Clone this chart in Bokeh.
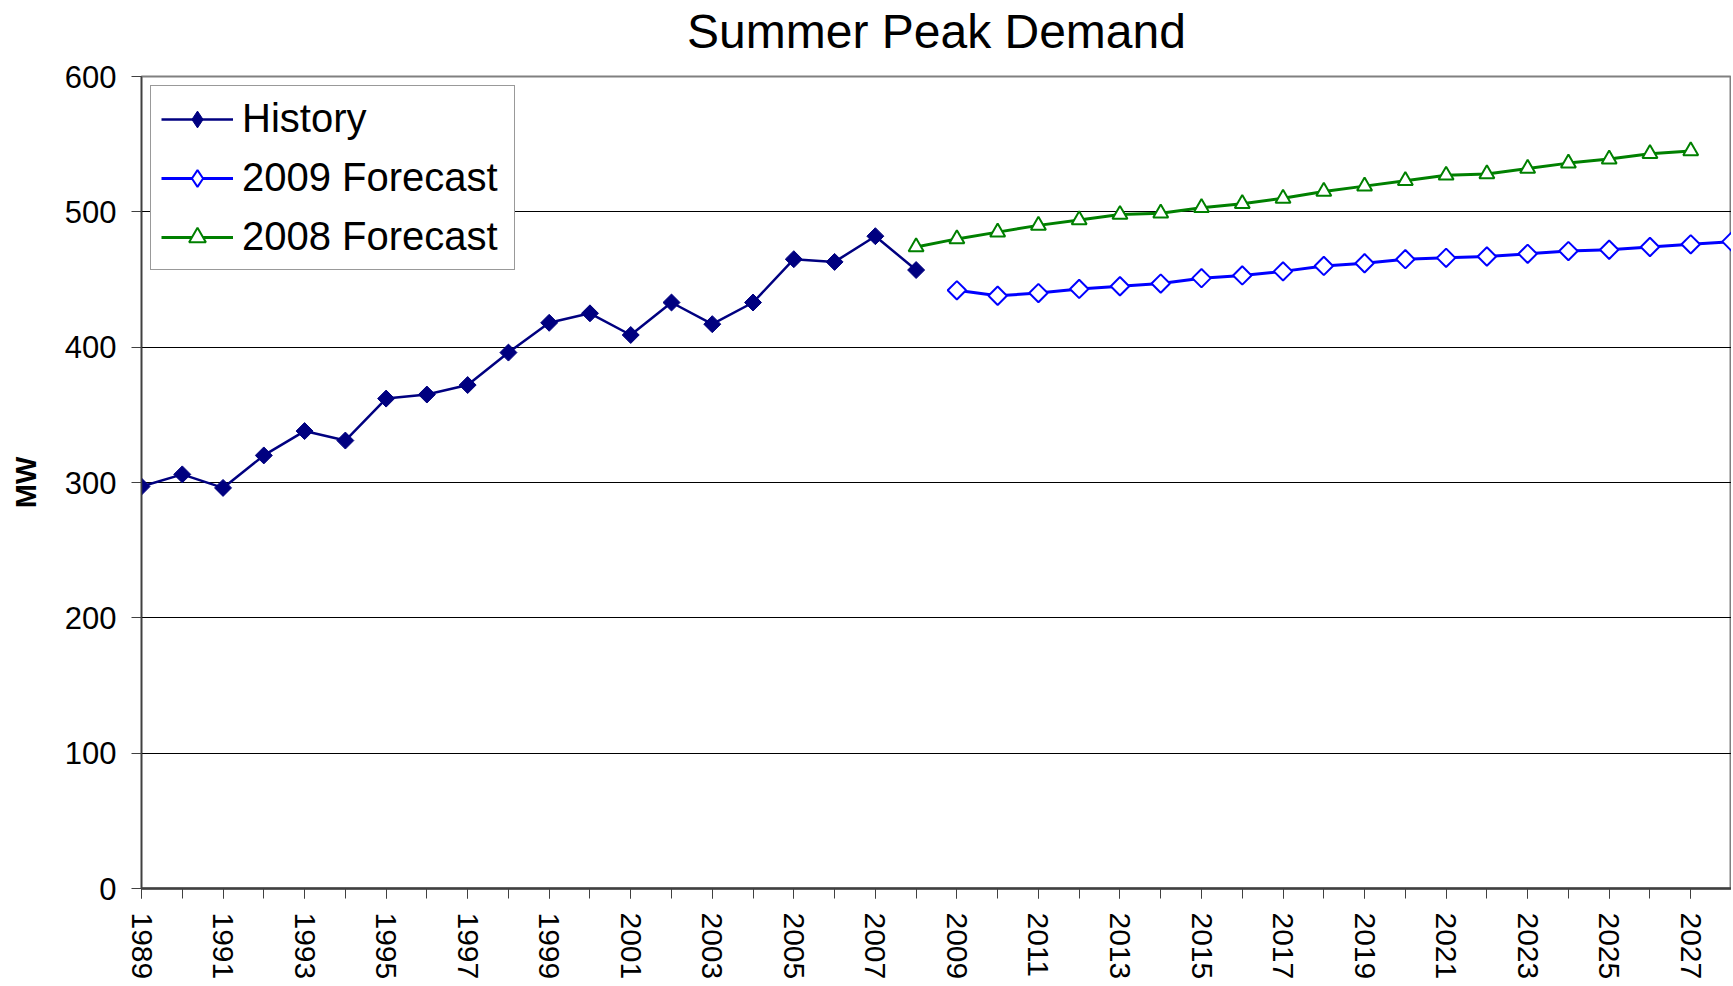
import math
from bokeh.plotting import figure
from bokeh.models import FixedTicker, Legend, LegendItem
from bokeh.embed import file_html
from bokeh.resources import INLINE

# ---- data ----
hist_years = list(range(1989, 2009))
history = [297, 306, 296, 320, 338, 331, 362, 365, 372, 396,
           418, 425, 409, 433, 417, 433, 465, 463, 482, 457]

f2009_years = list(range(2009, 2029))
forecast_2009 = [442, 438, 440, 443, 445, 447, 451, 453, 456, 460,
                 462, 465, 466, 467, 469, 471, 472, 474, 476, 478]

f2008_years = list(range(2008, 2028))
forecast_2008 = [474, 480, 485, 490, 494, 498, 499, 503, 506, 510,
                 515, 519, 523, 527, 528, 532, 536, 539, 543, 545]

x_label_years = list(range(1989, 2028, 2))
x_minor_years = list(range(1989, 2029))
y_ticks = [0, 100, 200, 300, 400, 500, 600]
grid_ticks = [100, 200, 300, 400, 500]

FONT = "Liberation Sans"

p = figure(width=1731, height=982, x_range=(1989, 2028), y_range=(0, 600),
           output_backend="svg", toolbar_location=None,
           title="Summer Peak Demand")
p.min_border_left = 141
p.min_border_right = 0
p.min_border_top = 0
p.min_border_bottom = 93

p.title.align = "center"
p.title.text_font = FONT
p.title.text_font_style = "normal"
p.title.text_font_size = "48px"
p.title.text_color = "black"
p.title.standoff = 4
p.title.padding = dict(left=0, right=0, top=0, bottom=17)

p.outline_line_color = "#808080"
p.outline_line_width = 2

# x axis
xa = p.xaxis[0]
xa.ticker = FixedTicker(ticks=x_label_years, minor_ticks=x_minor_years)
xa.major_label_overrides = {y: str(y) for y in x_label_years}
xa.major_label_orientation = "vertical"
xa.major_label_text_font = FONT
xa.major_label_text_font_size = "30px"
xa.major_label_text_color = "black"
xa.major_label_standoff = 14
xa.major_tick_in = 0
xa.major_tick_out = 10
xa.minor_tick_in = 0
xa.minor_tick_out = 10
xa.axis_line_color = "#404040"
xa.axis_line_width = 2.5
xa.major_tick_line_color = "#404040"
xa.minor_tick_line_color = "#404040"

# y axis
ya = p.yaxis[0]
ya.ticker = FixedTicker(ticks=y_ticks)
ya.minor_tick_line_color = None
ya.major_label_text_font = FONT
ya.major_label_text_font_size = "31px"
ya.major_label_text_color = "black"
ya.major_label_standoff = 15
ya.major_tick_in = 0
ya.major_tick_out = 10
ya.axis_line_color = "#404040"
ya.axis_line_width = 1.5
ya.major_tick_line_color = "#404040"
ya.axis_label = "MW"
ya.axis_label_text_font = FONT
ya.axis_label_text_font_style = "bold"
ya.axis_label_text_font_size = "29px"
ya.axis_label_text_color = "black"
ya.axis_label_standoff = 20

p.xgrid.visible = False
p.ygrid.ticker = FixedTicker(ticks=grid_ticks)
p.ygrid.grid_line_color = "black"
p.ygrid.grid_line_width = 1

# series
NAVY = "#000080"
BLUE = "#0000FF"
GREEN = "#008000"

h_line = p.line(hist_years, history, line_color=NAVY, line_width=2.5)
# legend-key renderers: tiny in the plot (hidden under the real markers),
# but the legend draws them at its own size as diamonds
h_key = p.scatter(hist_years, history, marker="diamond", size=0.1,
                  fill_color=NAVY, line_color=NAVY)
h_mark = p.scatter(hist_years, history, marker="square", angle=math.pi / 4,
                   size=12, fill_color=NAVY, line_color=NAVY)

b_line = p.line(f2009_years, forecast_2009, line_color=BLUE, line_width=3)
b_key = p.scatter(f2009_years, forecast_2009, marker="diamond", size=0.1,
                  fill_color="white", line_color=BLUE, line_width=2)
b_mark = p.scatter(f2009_years, forecast_2009, marker="square", angle=math.pi / 4,
                   size=13, fill_color="white", line_color=BLUE, line_width=2)

g_line = p.line(f2008_years, forecast_2008, line_color=GREEN, line_width=3)
g_mark = p.scatter(f2008_years, forecast_2008, marker="triangle",
                   size=15, fill_color="white", line_color=GREEN, line_width=2)

legend = Legend(items=[
    LegendItem(label="History", renderers=[h_line, h_key]),
    LegendItem(label="2009 Forecast", renderers=[b_line, b_key]),
    LegendItem(label="2008 Forecast", renderers=[g_line, g_mark]),
], location="top_left")
legend.margin = 9
legend.padding = 10
legend.spacing = 14
legend.glyph_width = 72
legend.glyph_height = 42
legend.label_height = 42
legend.label_width = 262
legend.label_standoff = 9
legend.label_text_font = FONT
legend.label_text_font_size = "40px"
legend.label_text_color = "black"
legend.border_line_color = "#333333"
legend.border_line_width = 1
legend.background_fill_color = "white"
legend.background_fill_alpha = 1
p.add_layout(legend)

open("out.html", "w").write(file_html(p, INLINE))
